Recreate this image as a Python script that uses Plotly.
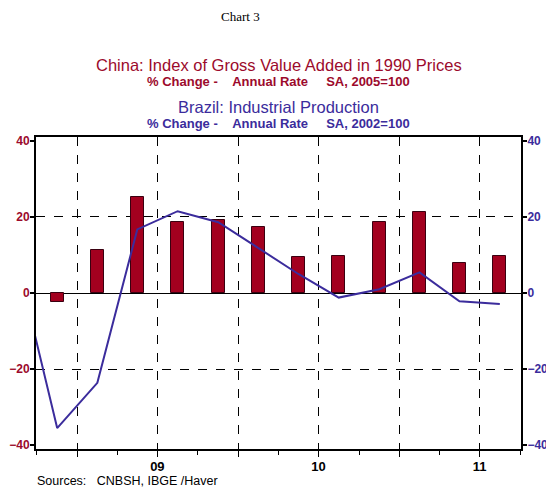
import pandas as pd
import plotly.graph_objects as go

# quarterly data, China starts 2008Q4, Brazil has one extra quarter before (clipped off)
china_quarters = ["2008Q4", "2009Q1", "2009Q2", "2009Q3", "2009Q4", "2010Q1",
                  "2010Q2", "2010Q3", "2010Q4", "2011Q1", "2011Q2", "2011Q3"]
china_gva = [-2.4, 11.2, 25.2, 18.7, 19.2, 17.4, 9.5, 9.7, 18.6, 21.3, 7.9, 9.7]

brazil_quarters = ["2008Q3"] + china_quarters
brazil_ip = [9.0, -35.5, -23.6, 16.7, 21.5, 18.6, 11.8, 5.0, -1.2, 1.0, 5.4, -2.2, -2.9]

year_ticks = ["2009-01-01", "2009-07-01", "2010-01-01", "2010-07-01", "2011-01-01", "2011-07-01"]
year_labels = ["", "09", "", "10", "", "11"]
y_ticks = [-40, -20, 0, 20, 40]

RED = "#9c0a2c"
BLUE = "#3b2c9c"
FONT = "Liberation Sans, Arial, sans-serif"

# page has an 8px body margin, so the figure is shifted by that
OFF = 8
W, H = 554 - OFF, 490 - OFF
L, R, T = 28, 33, 137 - OFF
B = H - (449 - OFF)


def q_start(labels):
    return [pd.Period(q, freq="Q").start_time.strftime("%Y-%m-%d") for q in labels]


def page_y(py):
    # page pixel -> paper coordinate
    return (H - B - (py - OFF)) / (H - T - B)


def page_x(px):
    return (px - OFF - L) / (W - L - R)


fig = go.Figure()
fig.add_trace(go.Bar(
    x=q_start(china_quarters), y=china_gva, xperiod="M3", xperiodalignment="middle",
    width=0.32 * 91 * 86400000,
    marker=dict(color="#a3001f", line=dict(color="#3a0010", width=1)),
    name="China", yaxis="y",
))
fig.add_trace(go.Scatter(
    x=q_start(brazil_quarters), y=brazil_ip, xperiod="M3", xperiodalignment="middle",
    mode="lines", line=dict(color=BLUE, width=2), name="Brazil", yaxis="y2",
))

yax = dict(
    range=[-41, 41], tickvals=y_ticks, ticks="outside", ticklen=4, tickwidth=2,
    tickcolor="black", automargin=False, ticklabelstandoff=-2,
    showline=True, linewidth=2, linecolor="black", showgrid=False,
    zeroline=True, zerolinecolor="black", zerolinewidth=1,
    minor=dict(tickvals=[-20, 20], showgrid=True, griddash="dash", gridcolor="black",
               gridwidth=1, ticklen=0),
)

fig.update_layout(
    width=W, height=H, margin=dict(l=L, r=R, t=T, b=B),
    paper_bgcolor="white", plot_bgcolor="white", showlegend=False, bargap=0,
    font=dict(family=FONT, size=12, color="black"),
    xaxis=dict(
        type="date", range=["2008-09-29", "2011-10-03"], automargin=False,
        tickvals=year_ticks, ticktext=year_labels, ticks="outside", ticklen=6, tickwidth=1,
        tickcolor="black", tickfont=dict(size=13, weight="bold"), ticklabelstandoff=-2,
        showgrid=True, griddash="dash", gridcolor="black", gridwidth=1,
        showline=True, linewidth=2, linecolor="black", mirror=True,
        minor=dict(dtick="M3", tick0="2008-10-01", ticks="outside", ticklen=4,
                   tickcolor="black", showgrid=False),
    ),
    yaxis=dict(**yax, side="left", tickfont=dict(size=12, color=RED, weight="bold")),
    yaxis2=dict(**yax, side="right", overlaying="y",
                tickfont=dict(size=12, color=BLUE, weight="bold")),
)

nb = "\u00a0"
sub = "% Change -" + nb * 4 + "Annual Rate" + nb * 5
notes = [
    ("Chart 3", page_x(240), page_y(16), 13, "black", "normal",
     "Liberation Serif, Times New Roman, serif"),
    ("China: Index of Gross Value Added in 1990 Prices", 0.5, page_y(65), 16.5, RED, "normal", FONT),
    (sub + "SA, 2005=100", 0.5, page_y(82), 13, RED, "bold", FONT),
    ("Brazil: Industrial Production", 0.5, page_y(107), 16.5, BLUE, "normal", FONT),
    (sub + "SA, 2002=100", 0.5, page_y(124), 13, BLUE, "bold", FONT),
]
for text, x, y, size, color, weight, family in notes:
    fig.add_annotation(text=text, x=x, y=y, xref="paper", yref="paper", showarrow=False,
                       xanchor="center", yanchor="middle",
                       font=dict(size=size, color=color, weight=weight, family=family))

fig.add_annotation(text="Sources:" + nb * 3 + "CNBSH, IBGE /Haver", x=page_x(35),
                   y=page_y(481), xref="paper", yref="paper", showarrow=False,
                   xanchor="left", yanchor="middle", font=dict(size=12.5, color="black"))

fig.write_html("out.html")
